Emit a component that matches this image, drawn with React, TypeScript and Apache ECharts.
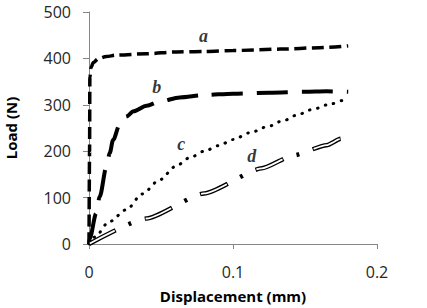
import React, { useEffect, useRef } from "react";
import * as echarts from "echarts";

// Load–displacement curves (x in mm, y in N)
const curveA: [number, number][] = [
  [0, 0], [0.0004, 200], [0.0006, 360], [0.0015, 381], [0.003, 391], [0.0063, 399],
  [0.012, 404], [0.019, 407], [0.04, 410], [0.061, 414], [0.08, 415], [0.1, 417],
  [0.133, 420], [0.16, 423], [0.18, 427],
];
const curveB: [number, number][] = [
  [0, 0], [0.0005, 12], [0.005, 66], [0.0074, 102], [0.0121, 166], [0.0144, 196],
  [0.0167, 224], [0.0214, 258], [0.026, 275], [0.031, 286], [0.04, 298], [0.049, 307],
  [0.063, 316], [0.08, 321], [0.1, 324], [0.125, 326], [0.15, 328], [0.165, 329], [0.18, 328],
];
const curveC: [number, number][] = [
  [0, 0], [0.004, 15], [0.014, 48], [0.026, 74], [0.037, 108], [0.049, 138], [0.06, 167],
  [0.07, 186], [0.08, 200], [0.09, 212], [0.1, 225], [0.112, 240], [0.124, 253],
  [0.135, 266], [0.146, 280], [0.156, 291], [0.168, 302], [0.18, 316],
];
const curveD: [number, number][] = [
  [0, 0], [0.04, 55], [0.08, 109], [0.12, 163], [0.142, 191], [0.165, 213],
  [0.175, 227], [0.18, 242],
];

// Curve tags and where they sit (x in mm, y in N)
const curveTags = ["a", "b", "c", "d"];
const tagX = [0.0796, 0.0471, 0.064, 0.113];
const tagY = [448, 339, 215, 190];

const xTicks = { min: 0, max: 0.2, interval: 0.1 };
const yTicks = { min: 0, max: 500, interval: 100 };

const AXIS_GRAY = "#868686";
const TICK_FONT = { fontFamily: "Open Sans", fontSize: 16, color: "#262626" };
const TITLE_FONT = { fontFamily: "Open Sans", fontWeight: "bold" as const, fontSize: 15, color: "#000" };

function lineSeries(
  data: [number, number][],
  lineStyle: Record<string, unknown>,
  z = 2,
  smooth = 0.3
) {
  return {
    type: "line",
    data,
    showSymbol: false,
    symbol: "none",
    smooth,
    smoothMonotone: "x",
    z,
    lineStyle,
  };
}

export default function App() {
  const ref = useRef<HTMLDivElement>(null);

  useEffect(() => {
    if (!ref.current) return;
    const chart = echarts.init(ref.current, undefined, { renderer: "svg" });
    chart.setOption({
      animation: false,
      backgroundColor: "#fff",
      grid: { left: 89, right: 50, top: 12, bottom: 64, outerBoundsMode: "none", containLabel: false },
      xAxis: {
        type: "value",
        ...xTicks,
        name: "Displacement (mm)",
        nameLocation: "middle",
        nameGap: 44,
        nameTextStyle: TITLE_FONT,
        axisLine: { show: true, lineStyle: { color: AXIS_GRAY, width: 1 } },
        axisTick: { show: true, length: 5, lineStyle: { color: AXIS_GRAY } },
        axisLabel: { ...TICK_FONT, margin: 20 },
        splitLine: { show: false },
      },
      yAxis: {
        type: "value",
        ...yTicks,
        name: "Load (N)",
        nameLocation: "middle",
        nameGap: 71,
        nameTextStyle: TITLE_FONT,
        axisLine: { show: true, lineStyle: { color: AXIS_GRAY, width: 1 } },
        axisTick: { show: true, length: 6, lineStyle: { color: AXIS_GRAY } },
        axisLabel: { ...TICK_FONT, margin: 18 },
        splitLine: { show: false },
      },
      series: [
        lineSeries(curveA, { color: "#000", width: 3.5, type: [12, 5.5] }),
        lineSeries(curveB, { color: "#000", width: 4, type: [31, 14] }),
        lineSeries(curveC, { color: "#000", width: 3, type: [0.5, 7.8], cap: "round" }),
        // d: outlined dash-dot — black stroke with a white core over the long dashes
        lineSeries(curveD, { color: "#000", width: 4.5, type: [30, 14, 3, 14] }, 2, 0.2),
        lineSeries(curveD, { color: "#fff", width: 1.8, type: [28, 33], dashOffset: -1 }, 3, 0.2),
        {
          type: "scatter",
          symbolSize: 0,
          z: 4,
          data: curveTags.map((t, i) => [tagX[i], tagY[i], t]),
          label: {
            show: true,
            position: "inside",
            formatter: (p: { data: [number, number, string] }) => p.data[2],
            fontFamily: "Liberation Serif",
            fontStyle: "italic",
            fontWeight: "bold",
            fontSize: 18,
            color: "#000",
          },
        },
      ],
    });
    return () => chart.dispose();
  }, []);

  return (
    <div
      ref={ref}
      style={{ position: "fixed", left: 0, top: 0, width: 427, height: 308, background: "#fff" }}
    />
  );
}
